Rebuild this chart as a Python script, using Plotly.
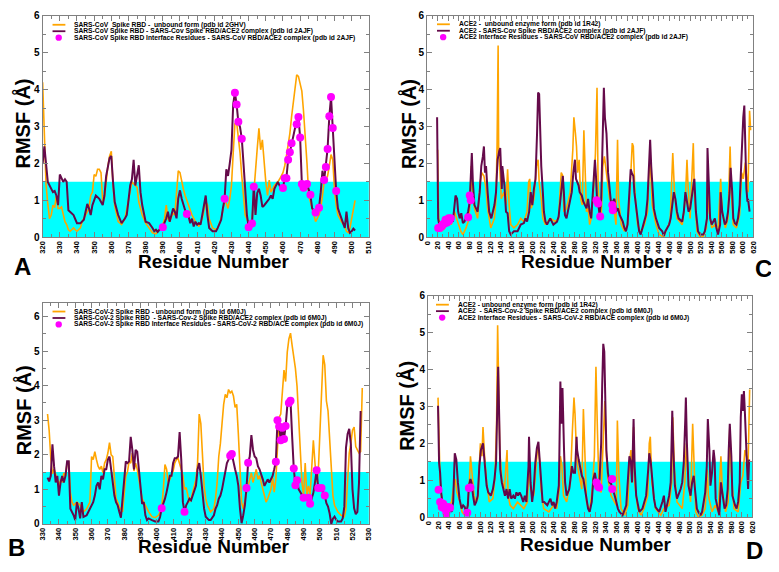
import plotly.graph_objects as go

W, H = 779, 572

# ---------------- DATA (residue, RMSF in Å) ----------------
A_FREE = [(320,4.2),(321,2.6),(322,1.4),(323,0.9),(324,0.5),(325,0.6),(326,0.87),(327,0.8),(328,1.13),(329,0.78),
 (330,0.78),(331,0.82),(332,0.6),(333,0.42),(334,0.34),(335,0.2),(336,0.16),(337,0.2),(338,0.25),(339,0.2),(340,0.16),
 (342,0.25),(343,0.42),(345,0.6),(347,0.78),(348,1.13),(349,1.22),(350,1.7),(351,1.65),(352,1.84),(353,1.84),(354,1.75),
 (355,0.96),(356,1.05),(357,1.5),(358,1.93),(359,2.2),(360,2.33),(361,1.4),(362,0.85),(364,0.42),(366,0.34),(368,0.51),
 (370,1.04),(371,1.31),(372,1.5),(373,1.45),(374,1.4),(375,1.35),(376,0.96),(378,0.6),(380,0.38),(382,0.25),(384,0.12),
 (386,0.09),(388,0.2),(390,0.34),(391,0.5),(392,0.87),(393,0.5),(394,0.42),(395,0.55),(396,0.65),(397,0.6),(398,1.2),
 (399,1.8),(400,1.75),(401,1.5),(402,1.3),(403,1.13),(405,0.87),(407,0.6),(409,0.42),(411,0.29),(413,0.51),(415,0.96),
 (416,0.88),(417,0.5),(419,0.25),(421,0.2),(422,0.25),(424,0.51),(425,0.73),(426,0.96),(427,0.92),(428,0.78),(429,1.04),
 (430,1.4),(431,2.28),(432,3.08),(433,3.12),(434,2.73),(435,2.28),(436,1.66),(437,1.04),(438,0.6),(440,0.38),(442,0.42),
 (443,1.2),(444,1.9),(445,2.4),(446,2.95),(447,2.37),(448,2.64),(449,2.0),(450,1.5),(451,1.13),(452,1.55),(453,1.22),
 (455,1.4),(457,1.5),(458,1.57),(460,1.75),(461,1.93),(462,2.2),(463,2.46),(464,2.81),(465,3.26),(466,3.7),(467,4.14),
 (468,4.4),(469,4.36),(470,4.19),(471,3.96),(472,3.4),(473,2.8),(474,2.0),(475,1.13),(476,0.96),(478,0.6),(479,0.42),
 (481,0.6),(482,0.78),(483,1.13),(484,1.5),(485,1.57),(486,1.66),(487,1.93),(488,2.24),(489,2.1),(490,1.3),(491,0.87),
 (492,0.6),(494,0.42),(496,0.29),(497,0.16),(498,0.12),(499,0.25),(500,0.51),(501,0.78),(502,1.0)]

A_CPLX = [(320,2.0),(321,2.46),(323,1.5),(325,1.3),(326,1.22),(327,1.25),(328,1.13),(329,0.87),(330,1.7),(331,1.6),
 (332,1.5),(333,1.57),(334,1.5),(335,0.73),(337,0.65),(338,0.6),(340,0.38),(342,0.38),(344,0.47),(345,0.65),(346,0.9),
 (347,0.78),(348,0.6),(349,0.87),(351,1.13),(353,1.04),(354,0.95),(355,0.87),(356,1.13),(357,1.66),(359,2.15),(360,2.2),
 (361,1.5),(362,0.95),(364,0.6),(366,0.38),(368,0.51),(369,0.6),(370,1.0),(371,1.4),(372,1.57),(373,2.1),(374,1.4),
 (375,1.66),(376,1.95),(377,1.22),(378,0.87),(380,0.42),(382,0.38),(384,0.25),(385,0.16),(386,0.2),(387,0.14),(388,0.2),
 (390,0.28),(392,0.51),(393,0.69),(394,0.42),(395,0.65),(396,0.78),(397,0.69),(398,0.51),(399,1.05),(400,1.27),(401,1.04),
 (402,0.87),(403,0.73),(404,0.63),(405,0.56),(406,0.38),(407,0.5),(408,0.29),(409,0.42),(410,0.34),(411,0.38),(412,0.34),
 (413,0.6),(414,0.87),(415,1.13),(416,0.6),(417,0.25),(419,0.16),(421,0.16),(422,0.25),(423,0.38),(424,0.47),(425,0.78),
 (426,1.04),(427,1.84),(428,1.66),(429,2.0),(430,2.37),(431,3.6),(432,3.92),(433,3.6),(434,3.12),(435,2.98),(436,2.68),
 (437,2.0),(438,1.22),(439,0.6),(440,0.28),(441,0.33),(442,0.38),(443,1.4),(444,0.6),(445,1.2),(446,1.31),(447,1.13),
 (448,0.82),(449,0.86),(451,0.96),(452,1.04),(453,1.13),(454,1.04),(455,1.31),(456,1.4),(457,1.5),(458,1.4),(459,1.31),
 (460,1.33),(461,1.6),(462,1.6),(463,2.1),(464,2.3),(465,2.55),(466,2.8),(467,2.95),(468,3.06),(469,3.26),(470,2.7),
 (471,1.45),(472,1.34),(473,1.34),(474,1.43),(476,1.15),(477,0.78),(479,0.67),(480,0.73),(481,0.8),(482,1.22),(483,1.8),
 (484,1.55),(485,1.9),(486,2.4),(487,3.28),(488,3.8),(489,2.96),(490,2.1),(491,1.25),(492,0.78),(493,0.65),(495,0.38),
 (496,0.25),(497,0.69),(498,0.25),(499,0.12),(500,0.16),(501,0.23),(502,0.18)]

A_IFACE = [(390,0.27),(404,0.63),(426,1.04),(432,3.92),(433,3.6),(434,3.13),(436,2.67),(440,0.27),(442,0.37),(443,1.37),
 (460,1.33),(461,1.6),(462,1.6),(463,2.1),(464,2.3),(465,2.55),(468,3.06),(469,3.26),(470,2.7),(471,1.44),(472,1.34),
 (474,1.44),(476,1.15),(479,0.67),(481,0.8),(484,1.55),(485,1.9),(486,2.39),(487,3.28),(488,3.8),(489,2.96),(491,1.25)]

B_FREE = [(333,3.18),(334,2.7),(335,1.9),(336,1.45),(337,1.58),(338,1.39),(339,1.29),(340,1.1),(341,1.29),(342,1.2),
 (343,1.48),(344,1.39),(345,1.76),(346,1.81),(347,0.92),(348,0.63),(349,0.54),(351,0.63),(353,0.54),(355,0.35),(357,0.44),
 (359,0.63),(360,1.95),(361,1.86),(362,2.09),(363,1.86),(364,1.67),(365,1.58),(366,1.67),(367,1.48),(368,1.76),(369,1.86),
 (370,2.05),(371,2.35),(372,2.0),(373,1.95),(374,1.2),(375,0.73),(376,0.63),(377,0.49),(379,0.35),(380,1.0),(381,1.39),
 (382,1.5),(383,1.81),(384,1.76),(385,2.05),(386,1.53),(387,1.76),(388,1.58),(389,1.29),(390,0.92),(391,0.73),(393,0.54),
 (395,0.35),(397,0.21),(399,0.18),(401,0.25),(403,0.44),(404,1.0),(405,1.72),(406,1.58),(407,1.2),(408,1.29),(409,1.39),
 (410,1.53),(411,1.76),(412,1.86),(413,1.9),(414,1.76),(415,1.58),(416,1.39),(417,1.0),(418,1.05),(419,0.82),(420,0.63),
 (421,0.73),(422,0.92),(423,1.1),(424,1.29),(425,1.76),(426,3.18),(427,2.9),(428,1.76),(429,1.1),(430,0.73),(431,0.54),
 (433,0.35),(435,0.44),(436,0.73),(437,1.2),(438,1.95),(439,2.33),(440,2.9),(441,3.46),(442,3.75),(443,3.65),(444,3.89),
 (445,3.79),(446,3.84),(447,3.7),(448,3.37),(449,3.46),(450,2.61),(451,1.39),(452,0.63),(453,0.44),(454,0.73),(455,0.9),
 (456,1.1),(457,1.29),(458,1.48),(459,1.2),(460,1.39),(461,1.58),(462,1.29),(463,1.4),(464,1.2),(465,1.0),(466,0.82),
 (467,0.63),(468,0.73),(469,0.9),(470,1.0),(471,1.35),(472,0.92),(473,1.3),(474,2.14),(475,3.08),(476,3.18),(477,3.84),
 (478,4.45),(479,4.12),(480,4.97),(481,5.35),(482,5.52),(483,5.16),(484,4.88),(485,4.5),(486,3.98),(487,3.0),(488,2.05),
 (489,1.2),(490,0.82),(491,1.76),(492,0.82),(493,1.1),(494,0.82),(495,1.58),(496,2.42),(497,1.76),(498,1.2),(499,1.48),
 (500,2.52),(501,3.46),(502,4.88),(503,4.6),(504,3.56),(505,3.27),(506,2.52),(507,1.58),(508,0.82),(509,0.54),(511,0.35),
 (513,0.25),(515,0.21),(516,0.44),(517,1.29),(518,2.05),(519,2.33),(520,2.71),(521,2.8),(522,2.24),(523,2.14),(524,2.05),
 (525,2.09),(526,3.93)]

B_CPLX = [(333,1.34),(334,1.23),(335,1.39),(336,2.3),(337,1.67),(338,1.2),(339,1.39),(340,0.82),(341,1.2),(342,1.39),
 (343,1.2),(344,1.39),(345,1.81),(346,1.81),(347,0.44),(348,0.35),(349,0.25),(350,0.11),(351,0.63),(352,0.44),(353,0.16),
 (354,0.63),(355,0.2),(357,0.25),(359,0.44),(361,0.63),(362,0.82),(363,1.1),(364,1.2),(365,1.0),(366,1.39),(367,1.29),
 (368,1.58),(369,1.58),(370,1.86),(371,1.95),(372,1.58),(373,1.1),(374,0.82),(375,0.63),(376,0.54),(377,0.35),(378,0.18),
 (379,0.73),(380,1.39),(381,1.81),(382,1.76),(383,1.81),(384,2.52),(385,2.14),(386,1.58),(387,2.14),(388,2.09),(389,1.58),
 (390,1.0),(391,0.58),(392,0.63),(393,0.25),(394,0.11),(395,0.16),(397,0.11),(399,0.07),(401,0.07),(402,0.2),(403,0.45),
 (404,0.58),(405,0.73),(406,0.92),(407,1.2),(408,1.39),(409,1.39),(410,1.76),(411,1.9),(412,1.9),(413,1.95),(414,2.66),
 (415,1.86),(416,0.63),(417,0.35),(418,0.54),(419,0.63),(420,0.73),(421,0.68),(422,0.82),(423,0.92),(424,1.1),(425,1.58),
 (426,1.76),(427,1.39),(428,0.82),(429,0.44),(430,0.21),(432,0.11),(433,0.11),(435,0.25),(436,0.44),(437,0.54),(438,0.73),
 (439,0.82),(440,1.0),(441,1.29),(442,1.58),(443,1.76),(444,1.86),(445,1.97),(446,2.02),(447,1.76),(448,1.58),(449,1.39),
 (450,1.1),(451,0.44),(452,0.02),(453,0.25),(454,0.54),(455,1.04),(456,1.77),(457,1.95),(458,2.57),(459,2.14),(460,1.95),
 (461,1.9),(462,1.67),(463,1.58),(464,1.39),(465,1.29),(466,1.1),(467,1.2),(468,1.29),(469,1.2),(470,1.29),(471,1.39),
 (472,1.58),(473,1.8),(474,3.0),(475,2.82),(476,2.42),(477,2.78),(478,2.46),(479,2.83),(480,3.4),(481,3.5),(482,3.56),
 (483,2.52),(484,1.6),(485,1.12),(486,1.26),(487,1.0),(488,0.92),(489,0.8),(490,0.76),(491,0.75),(492,0.75),(493,0.76),
 (494,0.58),(495,0.73),(496,0.9),(497,1.2),(498,1.55),(499,1.04),(500,1.03),(501,1.04),(502,0.9),(503,0.82),(504,0.6),
 (505,0.5),(506,0.3),(507,0.0),(508,0.15),(509,0.21),(510,0.12),(511,0.07),(513,0.07),(514,0.16),(515,0.5),(516,2.2),
 (517,2.6),(518,2.75),(519,2.3),(520,1.0),(521,0.45),(522,0.28),(523,0.35),(524,1.2),(525,3.27)]

B_IFACE = [(403,0.45),(417,0.35),(445,1.97),(446,2.02),(455,1.04),(456,1.77),(473,1.8),(474,3.0),(475,2.82),(476,2.42),
 (477,2.78),(478,2.46),(479,2.83),(481,3.5),(482,3.56),(484,1.6),(485,1.12),(486,1.26),(490,0.76),(493,0.76),(494,0.58),
 (498,1.55),(499,1.04),(501,1.04),(503,0.82)]

C_FREE = [(20,2.37),(22,0.51),(27,0.16),(34,0.25),(40,0.51),(46,0.34),(52,0.69),(56,0.51),(59,0.42),(64,0.16),(68,0.07),
 (74,0.25),(78,0.42),(81,0.78),(84,1.93),(86,1.31),(90,0.78),(96,0.51),(101,1.49),(104,1.75),(108,1.66),(112,1.31),
 (115,0.78),(121,0.25),(128,0.51),(131,1.04),(133,2.5),(135,5.2),(136,2.28),(138,1.93),(141,1.04),(146,1.22),(150,0.87),
 (153,1.84),(156,0.87),(159,0.34),(165,0.25),(172,0.34),(178,0.51),(184,0.42),(190,0.69),(193,1.49),(195,1.58),(198,0.78),
 (203,1.04),(208,1.93),(211,2.1),(213,1.49),(217,1.04),(220,0.51),(225,0.34),(234,0.51),(244,0.42),(250,0.51),(253,1.31),
 (255,1.75),(258,1.66),(260,0.69),(265,0.78),(272,1.22),(277,2.37),(279,3.25),(282,2.81),(284,2.46),(286,1.75),(289,2.1),
 (292,1.04),(295,0.87),(298,2.9),(300,1.75),(303,0.69),(306,0.78),(309,0.34),(312,0.51),(317,1.4),(320,2.28),(323,4.05),
 (325,1.49),(328,0.6),(331,0.51),(334,1.93),(337,2.19),(341,1.66),(344,1.31),(347,1.04),(353,0.87),(356,0.69),(359,0.34),
 (362,2.64),(364,1.04),(369,0.34),(375,0.16),(381,0.34),(384,0.78),(387,1.75),(390,2.55),(392,2.46),(395,1.22),(400,0.34),
 (406,0.12),(413,0.34),(419,0.69),(422,1.75),(424,2.1),(428,0.87),(435,0.34),(441,0.07),(450,0.0),(456,0.25),(462,0.42),
 (467,2.28),(470,1.31),(475,0.51),(485,0.34),(491,1.04),(494,2.1),(496,1.4),(500,0.51),(506,2.55),(508,1.22),(513,0.16),
 (519,0.0),(525,0.03),(531,0.25),(533,1.49),(536,0.69),(541,0.25),(547,0.34),(553,0.16),(558,1.58),(561,0.69),(567,0.25),
 (572,0.51),(576,2.46),(578,1.31),(582,0.34),(588,0.25),(594,0.6),(598,1.75),(601,1.58),(605,2.02),(607,1.75),(610,1.22),
 (613,3.43),(615,2.9)]

C_CPLX = [(19,3.25),(21,0.5),(24,0.25),(31,0.34),(37,0.42),(43,0.51),(49,0.42),(54,1.13),(57,1.04),(59,0.69),(62,0.51),
 (65,0.65),(68,0.38),(71,0.42),(75,0.56),(78,0.69),(81,0.96),(83,1.5),(85,2.28),(87,1.49),(90,0.87),(93,0.78),(96,0.69),
 (100,1.22),(103,1.93),(106,2.19),(108,2.46),(110,1.75),(112,1.93),(115,1.22),(118,0.69),(122,0.51),(125,0.69),(128,0.87),
 (131,1.22),(134,2.1),(137,2.33),(139,2.42),(142,1.31),(143,1.93),(147,1.4),(150,0.69),(153,0.65),(156,0.16),(159,0.07),
 (165,0.16),(172,0.16),(175,0.25),(178,0.34),(184,0.38),(187,0.51),(190,0.42),(194,0.69),(197,1.22),(200,0.87),(203,1.31),
 (206,1.57),(209,2.81),(211,3.92),(213,3.88),(215,2.37),(217,1.93),(220,1.22),(222,0.69),(225,0.42),(228,0.34),(234,0.51),
 (240,0.34),(247,0.42),(250,0.56),(253,0.96),(256,1.49),(258,1.66),(260,1.22),(262,0.6),(265,0.51),(272,1.04),(275,1.22),
 (278,1.75),(281,2.1),(283,1.58),(285,1.49),(288,1.4),(290,1.22),(294,1.13),(297,0.96),(300,0.87),(303,0.78),(306,1.04),
 (309,0.69),(312,0.51),(316,1.4),(319,2.1),(321,1.66),(323,1.04),(326,0.82),(328,0.6),(331,1.04),(334,2.81),(336,4.05),
 (338,3.25),(341,2.81),(344,1.75),(347,1.22),(350,0.87),(353,0.96),(356,1.04),(359,0.69),(363,0.78),(366,0.6),(372,0.42),
 (375,0.25),(378,0.16),(381,0.34),(384,1.04),(387,1.84),(389,1.75),(392,1.66),(394,1.22),(397,0.87),(400,0.51),(403,0.16),
 (406,0.07),(409,0.25),(413,0.42),(416,0.6),(419,1.04),(422,1.93),(424,2.64),(426,1.93),(428,1.31),(431,0.78),(435,0.51),
 (441,0.25),(447,0.16),(450,0.03),(453,0.16),(460,0.34),(463,0.51),(466,0.87),(469,1.22),(472,1.04),(475,0.69),(478,0.51),
 (485,0.42),(488,0.69),(491,1.22),(494,0.96),(497,0.69),(500,0.78),(503,1.04),(507,1.49),(508,1.58),(511,0.69),(515,0.16),
 (519,0.07),(525,0.07),(528,0.16),(532,0.51),(533,2.42),(536,1.04),(538,0.51),(541,0.34),(544,0.42),(547,0.51),(550,0.25),
 (553,0.07),(557,0.34),(558,1.22),(561,0.69),(563,0.51),(566,0.34),(569,0.42),(572,0.69),(575,1.22),(577,1.88),(580,1.22),
 (582,0.51),(585,0.38),(588,0.34),(591,0.51),(594,0.87),(597,1.93),(599,2.9),(601,3.25),(603,3.57),(605,2.37),(607,1.31),
 (609,0.96),(610,1.04),(613,0.69)]

C_IFACE = [(21,0.25),(24,0.25),(27,0.29),(28,0.3),(30,0.34),(31,0.36),(34,0.38),(35,0.47),(37,0.42),(38,0.4),(41,0.51),
 (42,0.45),(45,0.51),(78,0.54),(81,1.13),(83,1.0),(322,1.0),(325,0.91),(329,0.56),(352,0.87),(353,0.73)]

D_FREE = [(19,3.24),(21,2.35),(23,0.94),(28,0.23),(34,0.14),(40,0.32),(45,0.41),(48,0.76),(52,1.03),(55,0.67),(61,0.41),
 (65,0.14),(70,0.05),(75,0.23),(79,0.94),(81,1.65),(84,1.12),(88,0.58),(92,0.41),(95,0.5),(98,1.38),(100,2.0),(103,1.65),
 (105,2.44),(108,1.65),(112,0.94),(117,0.41),(124,0.5),(128,1.12),(131,2.53),(133,5.2),(135,3.6),(137,1.82),(141,1.03),
 (146,0.76),(151,1.82),(153,0.58),(157,0.32),(163,0.23),(171,0.41),(177,0.32),(183,0.23),(190,0.41),(193,1.47),(196,0.76),
 (202,0.58),(207,1.47),(210,2.0),(213,1.56),(216,0.76),(221,0.23),(231,0.14),(240,0.32),(246,0.23),(251,0.76),(253,1.65),
 (256,1.38),(259,0.58),(265,0.41),(272,0.94),(276,2.35),(279,3.24),(281,2.8),(284,1.65),(287,1.29),(291,0.94),(294,0.76),
 (297,2.93),(300,1.47),(303,0.41),(309,0.14),(314,0.76),(318,1.65),(321,4.08),(324,2.27),(327,0.76),(331,0.67),(335,2.27),
 (338,3.15),(341,1.65),(344,1.03),(350,0.58),(357,0.41),(360,0.32),(362,2.62),(365,1.12),(369,0.23),(376,0.05),(382,0.32),
 (385,1.47),(388,1.82),(390,0.94),(393,2.44),(395,0.94),(401,0.23),(407,0.05),(413,0.23),(420,0.58),(423,2.0),(425,2.18),
 (428,0.94),(435,0.23),(445,0.05),(451,0.23),(461,0.32),(466,0.94),(468,2.71),(471,1.29),(476,0.41),(486,0.23),(491,0.94),
 (494,2.0),(497,1.12),(502,0.41),(506,2.53),(509,1.12),(512,0.14),(517,0.0),(524,0.05),(530,0.23),(534,1.29),(536,0.58),
 (543,0.14),(549,0.32),(555,0.14),(560,1.65),(563,0.67),(569,0.14),(574,0.41),(577,2.44),(580,1.21),(585,0.23),(593,0.14),
 (598,0.94),(602,1.12),(606,1.82),(609,1.65),(612,1.38),(615,3.46)]

D_CPLX = [(19,3.02),(21,1.47),(23,1.2),(25,0.67),(28,0.32),(31,0.14),(34,0.05),(37,0.14),(40,0.27),(45,0.14),(48,0.41),
 (51,1.73),(54,1.56),(57,0.94),(60,0.5),(64,0.23),(67,0.32),(70,0.27),(73,0.14),(76,0.32),(78,0.85),(81,1.03),(83,0.94),
 (86,0.58),(89,0.32),(92,0.41),(95,0.58),(98,1.38),(101,1.82),(105,2.0),(107,1.65),(109,1.38),(112,0.85),(115,0.67),
 (120,0.58),(124,0.76),(127,1.03),(130,1.47),(132,2.44),(134,4.08),(136,2.71),(138,1.29),(141,0.94),(144,0.76),(147,0.58),
 (150,0.76),(153,0.5),(156,0.76),(159,0.5),(163,0.58),(166,0.5),(169,0.67),(172,0.58),(175,0.67),(178,0.58),(182,0.41),
 (185,0.58),(188,0.41),(192,1.38),(193,2.18),(196,0.94),(199,0.41),(202,0.76),(205,1.47),(208,1.87),(211,2.04),(213,1.65),
 (216,0.94),(219,0.41),(222,0.41),(228,0.32),(234,0.5),(237,0.32),(240,0.41),(243,0.23),(246,0.41),(250,0.85),(251,1.65),
 (253,3.68),(255,2.53),(257,3.5),(260,1.82),(262,0.94),(265,0.58),(270,0.76),(273,1.12),(275,1.38),(278,1.2),(281,1.2),
 (284,2.18),(285,1.82),(288,1.56),(291,1.29),(294,1.12),(297,1.03),(300,0.76),(303,0.41),(306,0.23),(309,0.14),(313,0.41),
 (316,1.03),(319,1.2),(322,0.94),(325,0.85),(328,1.03),(331,2.0),(333,3.59),(335,4.7),(337,4.48),(339,3.06),(341,1.82),
 (344,1.2),(347,0.94),(350,0.9),(354,0.67),(357,0.58),(360,0.41),(363,0.23),(366,0.14),(372,0.05),(379,0.32),(382,0.94),
 (385,1.65),(388,1.47),(390,0.94),(393,2.66),(395,1.38),(398,0.58),(401,0.32),(404,0.14),(410,0.23),(417,0.58),(421,1.29),
 (423,1.73),(426,1.47),(429,0.94),(432,0.5),(435,0.27),(442,0.14),(448,0.41),(451,0.58),(454,0.14),(458,0.41),(461,0.58),
 (464,0.94),(467,2.88),(469,1.82),(472,0.85),(476,0.5),(483,0.76),(486,0.94),(489,1.47),(492,2.71),(493,3.24),(495,2.0),
 (498,0.85),(502,0.58),(505,0.94),(508,1.12),(511,0.67),(514,0.23),(517,0.14),(521,0.05),(524,0.14),(527,0.41),(530,0.67),
 (533,1.38),(535,2.66),(538,1.82),(540,0.85),(543,1.2),(546,1.82),(548,1.56),(550,0.5),(554,0.23),(557,0.05),(560,0.94),
 (563,0.58),(567,0.23),(570,0.32),(573,0.76),(575,1.82),(577,2.53),(580,1.65),(582,0.58),(587,0.32),(590,0.23),(593,0.41),
 (596,0.94),(598,2.71),(600,3.33),(602,2.88),(604,3.42),(606,2.8),(608,2.27),(610,1.38),(612,0.76),(614,1.56)]

D_IFACE = [(20,0.74),(23,0.41),(26,0.27),(29,0.36),(31,0.23),(33,0.27),(35,0.1),(38,0.27),(42,0.25),(75,0.12),(78,0.79),
 (81,0.8),(322,0.94),(325,0.83),(327,0.8),(352,1.03),(352,0.76)]

LEG_A = ["SARS-CoV  Spike RBD -  unbound form (pdb id 2GHV)",
         "SARS-CoV Spike RBD - SARS-Cov Spike RBD/ACE2 complex (pdb id 2AJF)",
         "SARS-CoV Spike RBD Interface Residues - SARS-CoV RBD/ACE2 complex (pdb id 2AJF)"]
LEG_B = ["SARS-CoV-2 Spike RBD - unbound form (pdb id 6M0J)",
         "SARS-CoV-2 Spike RBD  - SARS-Cov-2 Spike RBD/ACE2 complex (pdb id 6M0J)",
         "SARS-CoV-2 Spike RBD Interface Residues - SARS-CoV-2 RBD/ACE complex (pdb id 6M0J)"]
LEG_C = ["ACE2 -  unbound enzyme form (pdb id 1R42)",
         "ACE2 - SARS-Cov Spike RBD/ACE2 complex (pdb id 2AJF)",
         "ACE2 Interface Residues - SARS-CoV RBD/ACE2 complex (pdb id 2AJF)"]
LEG_D = ["ACE2 - unbound enzyme form (pdb id 1R42)",
         "ACE2  - SARS-Cov-2 Spike RBD/ACE2 complex (pdb id 6M0J)",
         "ACE2 Interface Residues - SARS-CoV-2 RBD/ACE complex (pdb id 6M0J)"]

# ---------------- STYLE ----------------
ORANGE = "#FFA500"
PURPLE = "#650A4A"
MAGENTA = "#FF00FF"
CYAN = "#00FFFF"
GRAY = "#808080"
FONT = "Liberation Sans"

# the page body has an 8px margin: lay the figure out in window pixels, minus that offset
OFF = 8
FW, FH = W - OFF, H - OFF


def fx(p):
    return (p - OFF) / FW


def fy(p):
    return 1 - (p - OFF) / FH


panels = [
    dict(name="A", free=A_FREE, cplx=A_CPLX, iface=A_IFACE, ax="", xd=(38, 368), yd=(10, 236),
         xr=(320, 510), yr=(0, 6), dt=10, mdt=5, leg=LEG_A, letter=(18, 266), lg=(48, 19),
         xt=(211, 261), yt=(18, 120)),
    dict(name="C", free=C_FREE, cplx=C_CPLX, iface=C_IFACE, ax="2", xd=(427, 757), yd=(10, 236),
         xr=(0, 620), yr=(0, 6), dt=20, mdt=10, leg=LEG_C, letter=(767, 268), lg=(437, 18.5),
         xt=(599, 261), yt=(408, 120)),
    dict(name="B", free=B_FREE, cplx=B_CPLX, iface=B_IFACE, ax="3", xd=(38, 368), yd=(303, 529),
         xr=(330, 530), yr=(0, 6.4), dt=10, mdt=5, leg=LEG_B, letter=(12, 553), lg=(48, 312),
         xt=(211, 552), yt=(18, 413)),
    dict(name="D", free=D_FREE, cplx=D_CPLX, iface=D_IFACE, ax="4", xd=(428, 756), yd=(296, 522),
         xr=(0, 620), yr=(0, 6), dt=20, mdt=10, leg=LEG_D, letter=(758, 556), lg=(436, 305),
         xt=(598, 550), yt=(406, 408)),
]

fig = go.Figure()
shapes = []
annotations = []
layout_axes = {}

for p in panels:
    xa = "x" + p["ax"]
    ya = "y" + p["ax"]
    for series, color, width in ((p["free"], ORANGE, 1.6), (p["cplx"], PURPLE, 2.0)):
        xs = [r for r, v in series]
        ys = [v for r, v in series]
        fig.add_trace(go.Scatter(x=xs, y=ys, mode="lines", line=dict(color=color, width=width),
                                 xaxis=xa, yaxis=ya, showlegend=False, hoverinfo="skip"))
    fig.add_trace(go.Scatter(x=[r for r, v in p["iface"]], y=[v for r, v in p["iface"]], mode="markers",
                             marker=dict(color=MAGENTA, size=8, line=dict(width=0)),
                             xaxis=xa, yaxis=ya, showlegend=False, hoverinfo="skip"))

    common = dict(showline=True, linecolor=GRAY, linewidth=1, mirror="ticks", ticks="inside",
                  tickcolor=GRAY, ticklen=5, tickwidth=1, showgrid=False, zeroline=False)
    layout_axes["xaxis" + p["ax"]] = dict(
        common, domain=[fx(p["xd"][0]), fx(p["xd"][1])], range=list(p["xr"]), anchor=ya,
        dtick=p["dt"], tick0=0, tickangle=-90,
        tickfont=dict(family=FONT, size=7.5, color="black", weight="bold"),
        minor=dict(dtick=p["mdt"], ticks="inside", ticklen=3, tickcolor=GRAY, showgrid=False))
    layout_axes["yaxis" + p["ax"]] = dict(
        common, domain=[fy(p["yd"][1]), fy(p["yd"][0])], range=list(p["yr"]), anchor=xa,
        dtick=1, tick0=0,
        tickfont=dict(family=FONT, size=10, color="black", weight="bold"),
        minor=dict(dtick=0.5, ticks="inside", ticklen=3, tickcolor=GRAY, showgrid=False))

    # cyan band 0 - 1.5 Å
    shapes.append(dict(type="rect", xref=xa + " domain", yref=ya, x0=0, x1=1, y0=0, y1=1.5,
                       fillcolor=CYAN, line=dict(width=0), layer="below"))

    # legend (drawn manually for compact rows)
    lx, ly = p["lg"]
    step = 6.6
    shapes.append(dict(type="line", xref="paper", yref="paper", x0=fx(lx), x1=fx(lx + 13),
                       y0=fy(ly), y1=fy(ly), line=dict(color=ORANGE, width=1.8)))
    shapes.append(dict(type="line", xref="paper", yref="paper", x0=fx(lx), x1=fx(lx + 13),
                       y0=fy(ly + step), y1=fy(ly + step), line=dict(color=PURPLE, width=1.8)))
    shapes.append(dict(type="circle", xref="paper", yref="paper", x0=fx(lx + 3), x1=fx(lx + 9.5),
                       y0=fy(ly + 2 * step - 3.2), y1=fy(ly + 2 * step + 3.2),
                       fillcolor=MAGENTA, line=dict(width=0)))
    for i, t in enumerate(p["leg"]):
        annotations.append(dict(text=t, xref="paper", yref="paper", x=fx(lx + 20), y=fy(ly + i * step),
                                xanchor="left", yanchor="middle", showarrow=False,
                                font=dict(family=FONT, size=6.7, color="black", weight="bold")))

    # axis titles & panel letter
    annotations.append(dict(text="Residue Number", xref="paper", yref="paper", x=fx(p["xt"][0]),
                            y=fy(p["xt"][1]), xanchor="center", yanchor="middle", showarrow=False,
                            font=dict(family=FONT, size=19, color="black", weight="bold")))
    annotations.append(dict(text="RMSF (Å)", xref="paper", yref="paper", x=fx(p["yt"][0]),
                            y=fy(p["yt"][1]), xanchor="center", yanchor="middle", showarrow=False,
                            textangle=-90,
                            font=dict(family=FONT, size=20, color="black", weight="bold")))
    annotations.append(dict(text=p["name"], xref="paper", yref="paper", x=fx(p["letter"][0]),
                            y=fy(p["letter"][1]), xanchor="center", yanchor="middle", showarrow=False,
                            font=dict(family=FONT, size=24, color="black", weight="bold")))

fig.update_layout(width=FW, height=FH, autosize=False, margin=dict(l=0, r=0, t=0, b=0),
                  paper_bgcolor="white", plot_bgcolor="white", shapes=shapes,
                  annotations=annotations, showlegend=False, **layout_axes)

fig.write_html("out.html")
